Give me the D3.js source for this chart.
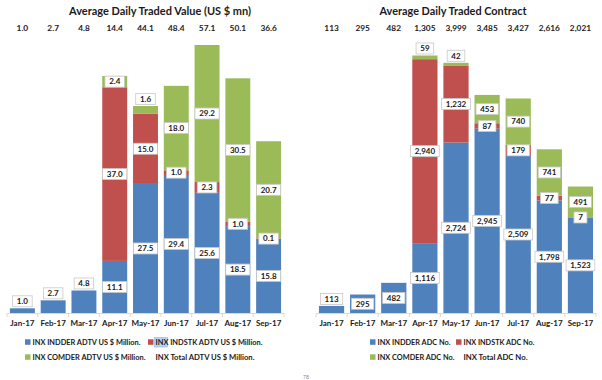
<!DOCTYPE html>
<html><head><meta charset="utf-8">
<script src="https://cdn.jsdelivr.net/npm/d3@7"></script>
<style>
body{margin:0;background:#fff;}
text{font-family:Lato,"Open Sans",sans-serif;font-weight:bold;fill:#1a1a1a;}
</style></head>
<body><svg id="c" width="602" height="380"></svg>
<script>
const months = ["Jan-17","Feb-17","Mar-17","Apr-17","May-17","Jun-17","Jul-17","Aug-17","Sep-17"];

// Average Daily Traded Value (US $ mn)
const valIndder = [1.0, 2.7, 4.8, 11.1, 27.5, 29.4, 25.6, 18.5, 15.8];
const valIndstk = [0, 0, 0, 37.0, 15.0, 1.0, 2.3, 1.0, 0.1];
const valComder = [0, 0, 0, 2.4, 1.6, 18.0, 29.2, 30.5, 20.7];
const valTotal  = [1.0, 2.7, 4.8, 14.4, 44.1, 48.4, 57.1, 50.1, 36.6];
const valLegend = ["INX INDDER ADTV US $ Million.", "INX INDSTK ADTV US $ Million.",
                   "INX COMDER ADTV US $ Million.", "INX Total ADTV US $ Million."];

// Average Daily Traded Contract
const cntIndder = [113, 295, 482, 1116, 2724, 2945, 2509, 1798, 1523];
const cntIndstk = [0, 0, 0, 2940, 1232, 87, 179, 77, 7];
const cntComder = [0, 0, 0, 59, 42, 453, 740, 741, 491];
const cntTotal  = [113, 295, 482, 1305, 3999, 3485, 3427, 2616, 2021];
const cntLegend = ["INX INDDER ADC No.", "INX INDSTK ADC No.", "INX COMDER ADC No.", "INX Total ADC No."];

const colors = ["#4f81bd", "#c0504d", "#9bbb59"];
const svg = d3.select("#c");

function drawChart(cfg){
  const g = svg.append("g");
  const x = d3.scaleBand().domain(months).range([cfg.x0, cfg.x1]).paddingInner(0.19).paddingOuter(0.095);
  const y = d3.scaleLinear().domain([0, cfg.yMax]).range([313, 31.4]);
  const rows = months.map((m,i)=>({m, a:cfg.s[0][i], b:cfg.s[1][i], c:cfg.s[2][i]}));
  const stack = d3.stack().keys(["a","b","c"])(rows);

  // title
  g.append("text").attr("x", cfg.titleX).attr("y", 15).attr("text-anchor","middle")
    .attr("textLength", cfg.titleW).attr("lengthAdjust","spacingAndGlyphs")
    .style("font-size","11.5px").text(cfg.title);
  // totals row
  g.selectAll(".tot").data(cfg.total).join("text")
    .attr("x",(d,i)=>x(months[i])+x.bandwidth()/2).attr("y",31).attr("text-anchor","middle")
    .style("font-size","8.3px").text(d=>cfg.fmt(d));

  // bars
  stack.forEach((layer,k)=>{
    g.selectAll(".bar"+k).data(layer).join("rect")
      .attr("x",d=>x(d.data.m)).attr("width",x.bandwidth())
      .attr("y",d=>y(d[1])).attr("height",d=>Math.max(0,y(d[0])-y(d[1])))
      .attr("fill",colors[k]);
  });

  // axis
  const ax = g.append("g").attr("transform","translate(0,313)")
    .call(d3.axisBottom(x).tickSizeInner(0).tickSizeOuter(0).tickPadding(7));
  ax.select(".domain").attr("stroke","#d9d9d9");
  ax.selectAll("text").style("font-size","8px").style("font-family","Lato,sans-serif").attr("fill","#1a1a1a");
  const step = x.step();
  g.selectAll(".tk").data(d3.range(months.length+1)).join("line")
    .attr("x1",i=>cfg.x0+i*step).attr("x2",i=>cfg.x0+i*step).attr("y1",313).attr("y2",317)
    .attr("stroke","#d9d9d9");

  // labels
  const labels=[];
  stack.forEach((layer,k)=>{
    layer.forEach((d,i)=>{
      const v = d[1]-d[0];
      if(!v) return;
      const top = y(d[1]), bot = y(d[0]);
      let cy = (top+bot)/2;
      const isTop = stack.slice(k+1).every(l=>l[i][1]-l[i][0]===0);
      const single = k===0 && isTop;
      if(cfg.singleOutside && single) cy = top - 7;
      else if(isTop && bot-top < 8) cy = top - 7;
      labels.push({x:x(d.data.m)+x.bandwidth()/2, y:cy, t:cfg.fmt(v)});
    });
  });
  const lg = g.selectAll(".lbl").data(labels).join("g")
    .attr("transform",d=>`translate(${d.x},${d.y})`);
  lg.append("rect").attr("fill","#fff").attr("stroke","#c8c8c8").attr("stroke-width",0.8);
  lg.append("text").attr("text-anchor","middle").attr("dy","0.35em").style("font-size","8px").text(d=>d.t);
  lg.each(function(){
    const t = d3.select(this).select("text").node().getBBox();
    d3.select(this).select("rect").attr("x",-t.width/2-4).attr("width",t.width+8).attr("y",-5.5).attr("height",11);
  });

  // legend
  const L = cfg.legend;
  const items = [
    {x:cfg.lx1, y:342, c:colors[0], t:L[0], w:cfg.lw[0]},
    {x:cfg.lx2, y:342, c:colors[1], t:L[1], w:cfg.lw[1]},
    {x:cfg.lx1, y:357, c:colors[2], t:L[2], w:cfg.lw[2]},
    {x:cfg.lx2, y:357, c:null, t:L[3], w:cfg.lw[3]}
  ];
  items.forEach((it,j)=>{
    if(cfg.highlight && j===1){
      g.append("rect").attr("x",it.x+6.5).attr("y",it.y-4.5).attr("width",13).attr("height",9.5)
        .attr("fill","#b7d5f0").attr("stroke","#8ab6de").attr("stroke-width",0.6);
    }
    if(it.c) g.append("rect").attr("x",it.x).attr("y",it.y-2.7).attr("width",5.5).attr("height",5.5).attr("fill",it.c);
    g.append("text").attr("x", it.x+7.5).attr("y",it.y).attr("dy","0.35em")
      .attr("textLength", it.w).attr("lengthAdjust","spacingAndGlyphs")
      .style("font-size","7.8px").text(it.t);
  });
}

drawChart({x0:7, x1:284, title:"Average Daily Traded Value (US $ mn)", titleX:160, titleW:182,
  s:[valIndder,valIndstk,valComder], total:valTotal, yMax:60, fmt:d3.format(".1f"),
  legend:valLegend, lx1:25, lx2:148, lw:[108,107,113,99], singleOutside:true, highlight:true});
drawChart({x0:316, x1:596, title:"Average Daily Traded Contract", titleX:453, titleW:147,
  s:[cntIndder,cntIndstk,cntComder], total:cntTotal, yMax:4500, fmt:d3.format(","),
  legend:cntLegend, lx1:370, lx2:456, lw:[73,71,77,64], singleOutside:false, highlight:false});

svg.append("text").attr("x",303).attr("y",379).style("font-size","5px").style("fill","#8a7bb0").style("font-weight","normal").text("78");
</script></body></html>
